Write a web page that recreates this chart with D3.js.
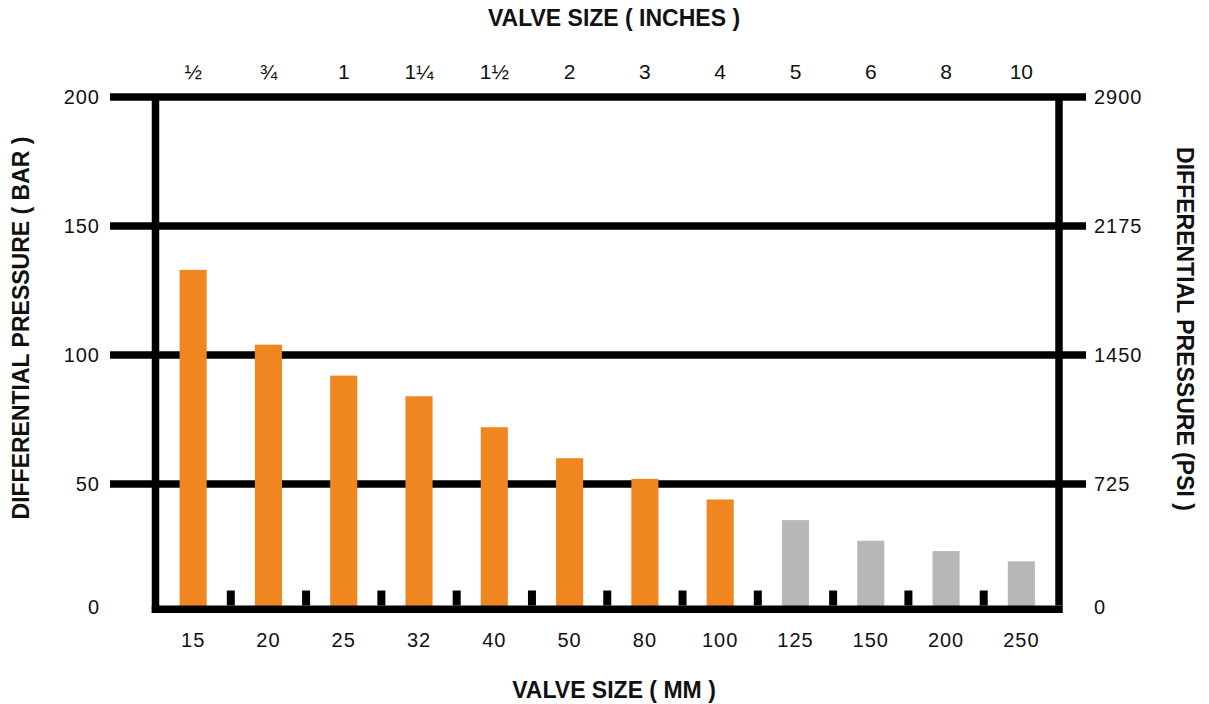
<!DOCTYPE html>
<html>
<head>
<meta charset="utf-8">
<script src="https://cdn.jsdelivr.net/npm/d3@7"></script>
<style>
  body { margin: 0; background: #fff; }
  text { font-family: "Liberation Sans", Arial, sans-serif; fill: #111; }
</style>
</head>
<body>
<svg id="chart" width="1209" height="704"></svg>
<script>
// valve sizes and max differential pressure (bar)
const sizesMM = ['15', '20', '25', '32', '40', '50', '80', '100', '125', '150', '200', '250'];
const sizesInch = ['½', '¾', '1', '1¼', '1½', '2', '3', '4', '5', '6', '8', '10'];
const pressureBar = [133, 104, 92, 84, 72, 60, 52, 44, 36, 28, 24, 20];
const barTicks = [0, 50, 100, 150, 200];
const psiTicks = ['0', '725', '1450', '2175', '2900'];
// first 8 sizes orange, rest grey
const highlighted = [true, true, true, true, true, true, true, true, false, false, false, false];

const svg = d3.select('#chart');

const x = d3.scaleBand()
    .domain(sizesMM)
    .range([155.5, 1059])
    .paddingInner(0.64)
    .paddingOuter(0.32);

const y = d3.scaleLinear()
    .domain([0, 200])
    .range([613, 97]);

const lineW = 7.5;

// horizontal grid lines (not the zero one)
svg.append('g')
    .selectAll('line')
    .data(barTicks.filter(d => d > 0))
    .enter()
    .append('line')
    .attr('x1', 110)
    .attr('x2', 1086)
    .attr('y1', d => y(d))
    .attr('y2', d => y(d))
    .attr('stroke', '#000')
    .attr('stroke-width', lineW);

// bars
svg.append('g')
    .selectAll('rect')
    .data(pressureBar)
    .enter()
    .append('rect')
    .attr('x', (d, i) => x(sizesMM[i]))
    .attr('width', x.bandwidth())
    .attr('y', d => y(d))
    .attr('height', d => y(0) - y(d))
    .attr('fill', (d, i) => highlighted[i] ? '#f0861f' : '#b7b7b7');

// frame: left, right and bottom
const left = 155.5, right = 1059;
svg.append('line')
    .attr('x1', left).attr('x2', left)
    .attr('y1', y(200)).attr('y2', y(0))
    .attr('stroke', '#000').attr('stroke-width', lineW);
svg.append('line')
    .attr('x1', right).attr('x2', right)
    .attr('y1', y(200)).attr('y2', y(0) - lineW)
    .attr('stroke', '#000').attr('stroke-width', lineW);
svg.append('line')
    .attr('x1', left - lineW / 2).attr('x2', right + lineW / 2)
    .attr('y1', y(0) - lineW / 2).attr('y2', y(0) - lineW / 2)
    .attr('stroke', '#000').attr('stroke-width', lineW);

// small separators between bars
svg.append('g')
    .selectAll('rect')
    .data(sizesMM.slice(1))
    .enter()
    .append('rect')
    .attr('x', d => x(d) - x.step() * x.paddingInner() / 2 - 4)
    .attr('width', 8)
    .attr('y', y(0) - lineW - 15)
    .attr('height', 15)
    .attr('fill', '#000');

// left tick labels (bar) - the zero label sits a bit above the line
const labelY = d => d === 0 ? y(d) + 1 : y(d) + 7;

svg.append('g')
    .selectAll('text')
    .data(barTicks)
    .enter()
    .append('text')
    .attr('x', 100)
    .attr('y', labelY)
    .attr('text-anchor', 'end')
    .style('font-size', '20px')
    .style('letter-spacing', '1px')
    .text(d => d);

// right tick labels (psi)
svg.append('g')
    .selectAll('text')
    .data(psiTicks)
    .enter()
    .append('text')
    .attr('x', 1094)
    .attr('y', (d, i) => labelY(barTicks[i]))
    .style('font-size', '20px')
    .style('letter-spacing', '1px')
    .text(d => d);

// bottom labels (mm)
svg.append('g')
    .selectAll('text')
    .data(sizesMM)
    .enter()
    .append('text')
    .attr('x', d => x(d) + x.bandwidth() / 2)
    .attr('y', 647)
    .attr('text-anchor', 'middle')
    .style('font-size', '20px')
    .style('letter-spacing', '1px')
    .text(d => d);

// top labels (inches)
svg.append('g')
    .selectAll('text')
    .data(sizesInch)
    .enter()
    .append('text')
    .attr('x', (d, i) => x(sizesMM[i]) + x.bandwidth() / 2)
    .attr('y', 79)
    .attr('text-anchor', 'middle')
    .style('font-size', '21px')
    .text(d => d);

// axis titles
svg.append('text')
    .attr('x', 614).attr('y', 26)
    .attr('text-anchor', 'middle')
    .style('font-size', '23px').style('font-weight', 'bold')
    .text('VALVE SIZE ( INCHES )');

svg.append('text')
    .attr('x', 614).attr('y', 698)
    .attr('text-anchor', 'middle')
    .style('font-size', '23px').style('font-weight', 'bold')
    .text('VALVE SIZE ( MM )');

svg.append('text')
    .attr('transform', 'translate(29,328) rotate(-90)')
    .attr('text-anchor', 'middle')
    .style('font-size', '23px').style('font-weight', 'bold')
    .text('DIFFERENTIAL PRESSURE ( BAR )');

svg.append('text')
    .attr('transform', 'translate(1177,329) rotate(90)')
    .attr('text-anchor', 'middle')
    .style('font-size', '23px').style('font-weight', 'bold')
    .text('DIFFERENTIAL PRESSURE (PSI )');
</script>
</body>
</html>
